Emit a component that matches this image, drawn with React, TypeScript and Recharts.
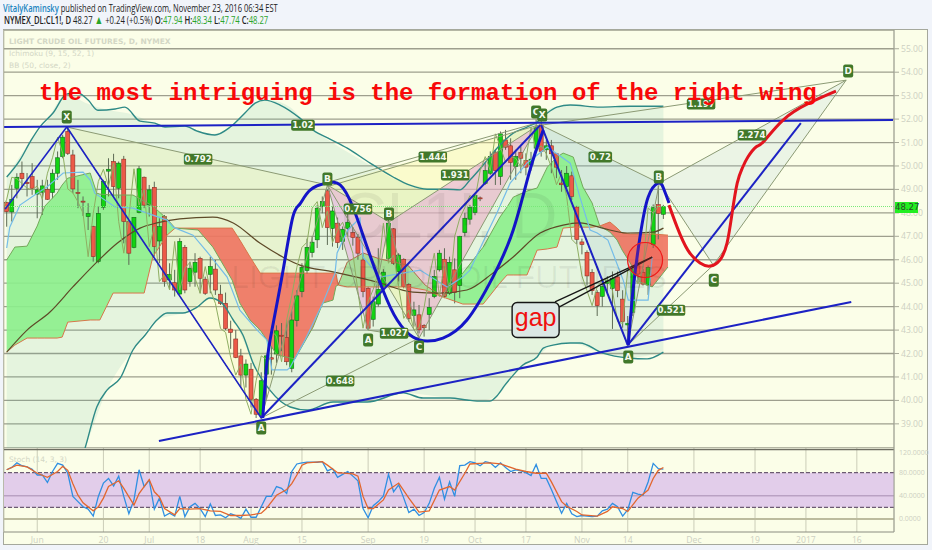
import React from 'react';
import {
  ComposedChart,
  Area,
  Bar,
  Line,
  XAxis,
  YAxis,
  CartesianGrid,
  ReferenceArea,
  ReferenceDot,
  ReferenceLine
} from 'recharts';

type Pt = [number, number];
type Band = [number, number, number];

const opens = [48.44,48.04,49.05,49.69,49.3,49.55,48.8,48.88,49.0,48.87,49.69,50.4,51.47,50.47,48.87,48.5,47.84,47.41,45.92,48.24,49.78,50.19,49.05,50.29,47.63,46.53,48.01,49.52,48.34,49.09,46.8,47.84,45.14,45.02,44.54,46.53,45.07,45.47,46.06,45.17,45.38,45.6,44.53,44.14,43.04,42.62,41.9,41.08,41.33,40.05,39.35,41.12,41.82,41.98,42.78,42.69,41.37,43.41,44.64,45.54,46.31,46.85,48.27,48.94,47.34,47.56,46.77,47.34,47.16,46.96,45.99,44.78,43.46,44.11,44.85,46.06,47.32,45.5,46.02,44.95,43.63,43.65,43.2,43.67,44.43,45.57,46.02,44.57,45.57,44.9,47.16,47.73,48.01,48.64,49.26,49.69,50.57,49.55,51.11,50.86,49.98,50.57,50.23,50.05,50.76,51.75,50.69,50.86,50.52,49.27,49.12,49.58,48.25,46.76,46.31,45.46,44.6,44.44,45.0,44.78,45.27,44.32,43.22,43.76,45.74,45.46,44.92,46.66,48.35,47.94];
const highs = [48.48,49.19,49.69,50.19,49.7,50.12,49.41,49.41,49.41,49.86,50.62,51.33,51.6,50.69,49.41,48.7,48.41,47.45,48.27,49.41,50.33,50.52,50.19,50.43,47.63,47.81,50.0,49.55,49.19,49.33,47.77,47.91,45.85,45.57,46.92,46.63,45.92,46.28,46.13,45.28,46.13,45.99,44.93,44.6,43.4,43.0,42.2,41.75,41.6,40.1,41.2,41.95,42.3,43.2,43.3,43.4,43.8,44.7,45.85,46.9,47.0,48.34,48.7,49.0,48.27,47.8,47.42,48.05,47.4,47.1,46.28,44.85,44.43,46.49,45.6,47.7,47.35,46.28,46.06,45.0,44.21,44.07,43.25,44.36,45.57,46.42,46.49,46.13,46.06,47.02,48.0,48.34,48.85,48.7,50.12,50.62,50.69,51.47,51.54,51.18,50.69,50.83,50.54,50.6,51.98,52.05,51.11,51.11,50.54,49.83,50.0,49.76,48.3,46.9,46.4,45.6,44.7,45.2,45.3,45.5,45.5,44.7,43.6,45.75,46.0,45.6,45.75,48.36,49.15,48.34];
const lows = [47.41,47.63,48.62,49.05,48.7,48.77,47.77,47.91,48.55,48.62,49.41,50.33,50.47,48.84,48.2,47.87,47.27,45.92,45.85,48.13,48.7,48.7,48.62,46.7,45.78,46.49,47.98,48.2,47.84,46.13,45.85,44.85,44.71,44.43,44.5,44.57,44.85,44.85,44.57,44.5,44.57,44.5,44.07,43.0,42.2,41.8,40.55,40.55,39.7,39.25,39.2,40.0,41.1,41.6,42.1,41.5,41.2,43.15,44.4,45.4,46.1,46.5,47.98,46.63,46.56,46.5,46.42,46.99,46.6,46.0,44.4,43.0,43.15,44.0,44.6,45.92,45.78,45.07,44.78,43.36,43.15,42.86,42.72,43.0,44.36,45.5,44.36,44.5,44.14,44.36,47.0,47.5,47.9,48.5,49.19,49.62,49.19,49.19,50.69,49.41,49.41,49.69,49.6,49.8,50.6,50.4,50.26,49.69,49.48,48.9,49.05,48.55,46.66,46.23,44.9,44.5,43.6,44.0,44.6,43.05,44.4,43.1,42.3,43.6,45.0,44.9,44.5,46.5,46.87,47.74];
const closes = [48.05,48.58,49.52,49.46,49.25,49.05,48.98,49.15,48.58,49.69,50.35,51.23,50.54,49.02,48.85,48.47,47.98,46.13,47.98,49.34,49.86,49.12,50.12,47.63,46.28,47.81,49.88,48.33,48.98,46.56,47.41,45.07,45.37,44.71,46.78,44.71,45.64,45.89,45.21,44.57,45.71,44.71,44.14,43.07,42.9,41.83,41.08,41.55,40.05,39.41,40.84,41.9,41.76,42.97,42.74,41.65,43.43,44.46,45.68,46.53,46.75,48.2,48.48,47.37,48.08,46.73,47.3,47.6,46.95,46.28,44.64,43.08,44.21,44.74,45.47,47.56,45.85,46.2,44.85,43.5,43.86,43.01,43.1,43.97,45.28,46.28,44.43,45.89,44.6,46.99,47.77,48.23,48.74,48.6,49.8,50.4,49.8,51.37,50.8,50.15,50.4,50.33,49.95,50.29,51.65,50.62,50.86,50.52,49.95,49.2,49.69,48.7,46.87,46.65,45.31,44.68,44.04,44.86,45.1,45.2,44.68,43.36,43.28,45.6,45.39,44.96,45.67,48.22,47.98,48.27];

const stochK = [85,89,97,92,90,86,76,76,63,82,96,93,79,39,30,21,17,5,39,62,70,57,74,39,9,33,85,56,67,17,36,5,10,5,39,4,21,27,18,4,26,6,7,2,9,6,1,17,3,3,21,39,39,56,53,44,82,95,97,98,98,98,99,83,87,72,77,82,74,66,18,2,23,30,40,77,47,59,36,11,17,6,11,27,53,72,34,64,39,92,93,99,97,92,99,97,89,97,89,82,85,83,80,75,94,70,70,51,30,10,27,9,4,6,5,4,5,14,17,27,21,5,16,46,43,41,64,96,87,86];
const stochD: Pt[] = [[0,85],[2,93],[4,90],[6,79],[8,72],[10,82],[11,91],[12,84],[13,61],[14,41],[15,28],[17,14],[18,21],[19,36],[20,56],[22,66],[23,53],[25,24],[26,44],[28,68],[29,47],[30,38],[31,18],[33,7],[34,18],[36,17],[38,18],[40,14],[42,13],[44,6],[46,6],[48,7],[50,10],[51,18],[53,41],[55,51],[56,61],[57,76],[58,93],[59,97],[62,99],[63,93],[65,80],[68,78],[69,74],[70,39],[71,18],[72,18],[74,33],[75,50],[77,62],[79,36],[81,12],[83,14],[85,50],[87,56],[88,50],[90,79],[91,95],[93,96],[95,97],[97,95],[100,86],[102,82],[104,79],[106,79],[107,64],[109,30],[110,22],[112,13],[113,7],[116,5],[118,13],[119,21],[121,18],[122,13],[124,36],[126,50],[127,70],[128,84],[129,89]];

const bbUpper: Pt[] = [[0,49.53],[2.6,50.25],[4.8,51.1],[6.5,51.66],[9.1,52.26],[11.8,53.07],[14,53.11],[16,52.81],[17.9,52.38],[21.3,52.43],[23.2,52.51],[26.2,51.91],[29.1,51.83],[31.1,51.66],[35,51.7],[37.4,51.49],[40.9,51.32],[43.9,51.66],[46.8,52.26],[48.8,52.68],[50.7,52.81],[53.7,52.6],[57.6,52.04],[60.2,51.53],[63.5,51.15],[66.9,50.76],[71.4,50.12],[75.9,49.53],[79.2,49.18],[82.6,49.01],[86.5,49.01],[89,48.98],[91,49.4],[93.6,50.04],[96.3,50.76],[99.5,51.4],[102.2,51.66],[104.2,51.87],[106.2,52.26],[108.1,52.51],[110.7,52.6],[116.6,52.51],[122.4,52.55],[129,52.55]];
const bbLower: Pt[] = [[0,29.8],[7.5,34.05],[15.4,37.97],[17.7,39.72],[19.7,40.44],[22.3,40.95],[24.8,42.15],[27.2,42.79],[29.5,43.43],[31.5,43.73],[34.6,43.73],[37.4,43.98],[39.9,44.37],[42.3,44.15],[44.5,43.43],[46.4,42.79],[48.4,41.59],[51.7,40.44],[55.7,39.72],[59,39.59],[64.1,39.93],[70.8,39.93],[77.9,40.32],[81.8,40.1],[87.1,40.1],[90.4,40.02],[92.4,39.97],[94.9,39.97],[96.3,40.19],[97.9,40.66],[99.5,41.08],[101.4,41.51],[104.2,41.85],[105.4,42.23],[107.3,42.36],[110.7,42.45],[112.6,42.45],[117.1,42.02],[122.1,41.81],[125.8,41.77],[129,42.06]];
const bbBasis: Pt[] = [[0,42.06],[4,43],[8.5,43.77],[13,44.84],[17.7,45.9],[21.7,46.7],[26.2,47.35],[29.5,47.57],[34,47.74],[40.5,47.82],[44.5,47.57],[49.8,46.7],[54.3,46.11],[57.6,45.77],[64.1,45.48],[72.7,45.05],[79.8,44.62],[85.1,44.58],[90.4,44.71],[95.5,45.43],[99.5,46.12],[104.8,47.14],[109.3,47.48],[112.6,47.57],[117,47.35],[121.9,47.14],[127,47.18],[129,47.35]];

const conversionLine: Pt[] = [[0,46.5],[0.6,47.39],[2.6,48.33],[6,48.84],[7.9,49.1],[11.1,49.7],[15,49.74],[16.4,49.4],[17.3,48.84],[21.3,48.25],[24.8,48.2],[31.5,47.69],[32.7,47.39],[36.6,47.05],[39.4,46.33],[43.3,45.26],[45.8,43.85],[49.2,43],[51.1,42.58],[52.1,41.3],[55.1,41.3],[55.7,41.42],[58.6,42.58],[62.1,44.15],[64.5,45.43],[64.9,46.29],[67,47.27],[69.4,47.78],[70,46.12],[73.3,45.26],[81.2,45.56],[86.5,44.84],[89.6,45.26],[91,45.56],[94.4,47.14],[96.3,47.99],[98.9,49.27],[102.2,50.12],[106.2,50.81],[110.7,50.12],[112.6,48.67],[114.6,47.27],[116,47.14],[118.1,46.84],[121.1,45.13],[122.1,44.28],[126,44.28],[126.8,46.12]];

// cloud rows: bar index, upper edge, lower edge
const cloudGreen1: Band[] = [[0,45.99,42.06],[1.6,46.54,42.36],[4,46.58,42.66],[6,47.44,42.66],[7.5,48.29,42.66],[9.9,48.84,42.66],[10.9,49.19,42.7],[12,49.48,43.34],[16.4,49.7,43.43],[17.7,48.84,43.43],[18.3,48.8,43.43],[20.9,48.76,44.58],[24.8,48.76,44.58],[27,48.5,44.58],[28.7,48.29,46.12],[31.5,47.74,47.05],[33.1,47.35,47.35]];
const cloudRed1: Band[] = [[33.1,47.35,47.35],[37.6,47.35,47.27],[40.5,47.35,46.54],[44.3,47.35,45.13],[45.8,46.84,44.15],[47.8,46.12,43.43],[49.8,45.43,43],[53.1,45.43,41.94],[56.6,45.43,41.77],[60.2,45.43,43.13],[62.1,45.43,44.15],[64.1,45.43,44.28],[64.7,45.39,44.88],[65.1,44.92,44.92]];
const cloudGreen2: Band[] = [[65.1,44.92,44.92],[66.9,45.9,44.84],[70,46.29,44.84],[73.3,46.03,44.84],[78.8,45.77,44.84],[82.2,44.92,44.71],[85.7,44.41,44.41]];
const cloudGreen3: Band[] = [[85.7,44.41,44.41],[89.6,45.43,44.11],[93.6,46.54,44.11],[96.9,47.82,45.01],[98.3,48.25,45.35],[99.5,48.67,45.35],[102.2,48.93,45.35],[104.2,49.06,46.41],[106.2,49.95,46.46],[108.1,50.38,46.54],[109.3,50.55,47.35],[111.3,50.38,47.39],[113.2,49.1,47.39],[115,48.42,47.39],[116.5,47.44,47.44]];
const cloudRed2: Band[] = [[116.5,47.44,47.44],[118.5,47.61,47.18],[119.9,47.35,46.84],[120.9,47.14,46.41],[122.5,47.1,45.86],[124.4,47.1,45.05],[126.8,47.1,44.84],[129.9,47.05,45.69]];

// harmonic pattern fills, same row layout as the clouds
const patternYellow1: Band[] = [[11.8,51.66,51.66],[50,49.82,39.25],[63,49.19,49.19]];
const patternYellow2: Band[] = [[63,49.19,49.19],[81,50.3,42.66],[104.4,51.74,51.74]];
const patternPink1: Band[] = [[63,49.19,49.19],[71,48.15,43],[75.1,47.61,47.61]];
const patternPink2: Band[] = [[75.1,47.61,47.61],[81,48.44,42.66],[104.4,51.74,51.74]];
const patternBlue1: Band[] = [[105,51.74,51.74],[122,49.93,42.36],[128.2,49.27,49.27]];
const patternBlue2: Band[] = [[128.2,49.27,49.27],[138.8,50.54,45.77],[164.9,53.66,53.66]];

// legs of the patterns: from index, from price, to index, to price
const patternLegs: [number, number, number, number][] = [
  [11.8,51.66,50,39.25],[11.8,51.66,63,49.19],[50,39.25,63,49.19],[50,39.25,81,42.66],[63,49.19,81,42.66],[63,49.3,104.4,51.85],[63,49.12,104.4,51.74],[81,42.66,104.4,51.74],
  [63,49.19,71,43],[71,43,75.1,47.61],[63,49.19,75.1,47.61],[71,43,81,42.66],[75.1,47.61,81,42.66],[75.1,47.61,104.4,51.74],
  [105,51.74,122,42.36],[105,51.74,128.2,49.27],[122,42.36,128.2,49.27],[122,42.36,138.8,45.77],[128.2,49.27,138.8,45.77],[128.2,49.27,164.9,53.66],[105,51.74,164.9,53.66],[138.8,45.77,164.9,53.66]
];
const blueLines: [number, number, number, number, number][] = [
  [-0.5,51.66,174.1,51.96,2],[29.9,38.27,165.9,44.2,2],[-0.3,48.16,11.8,51.66,1.6],[11.8,51.66,50,39.25,1.6],[50,39.25,104.8,51.74,2],[105,51.74,122,42.36,2],[122,42.36,156,51.83,2]
];
const gapLines: [number, number, number, number][] = [[107.7,44.2,126.8,46.11],[108.5,43.98,126.8,46.11]];

const blueCurve1: Pt[] = [[50.3,39.25],[51.1,41.59],[52.1,43],[54.3,45.56],[56.2,47.82],[57.6,48.38],[59.6,48.97],[62.9,49.27],[65.5,49.19],[68,48.25],[70.8,46.54],[73.9,44.71],[76.7,43.43],[79.8,42.7],[82.6,42.53],[85.7,42.66],[90.4,43.43],[95.5,45.26],[99.5,47.27],[102.8,49.83],[105.4,51.53]];
const blueCurve2: Pt[] = [[122.1,42.36],[123.1,44.84],[124.4,46.97],[126,48.67],[128,49.27],[129,49.06],[130.1,48.42]];
const redCurve: Pt[] = [[130.1,48.33],[131.7,47.39],[133.8,46.41],[136.2,45.86],[138.2,45.73],[140.1,45.99],[141.5,46.71],[142.5,47.99],[143.5,49.27],[144.5,49.91],[145.6,50.38],[147.2,50.81],[148.6,51.02],[152.5,51.96],[157.6,52.68],[162.9,53.19]];

const tagTexts = ['X','0.792','1.02','B','0.756','A','0.648','A','B','1.027','C','1.444','1.931','C','X','0.72','1.197','2.274','B','0.521','C','A','D'];
const tagIndex = [11.8,37.6,58.2,63,69,50,65.5,71,75.1,76.1,81,83.7,88.1,104,105.2,116.6,136.4,146.4,128.1,130.5,138.9,122.1,165.3];
const tagPrice = [52.09,50.29,51.74,49.44,48.16,38.82,40.83,42.58,47.95,42.87,42.28,50.38,49.61,52.3,52.17,50.38,52.64,51.32,49.53,43.85,45.13,41.85,54.05];

const timeTicks = [6,19,28,38,48,58,71,82,92,102,113,122,135,147,157,167];
const timeLabels = ['Jun','20','Jul','18','Aug','15','Sep','19','Oct','17','Nov','14','Dec','19','2017','16'];
const priceTicks = [39,40,41,42,43,44,45,46,47,48,49,50,51,52,53,54,55];
const stochTicks = [0,40,80,120];
const lastPrice = 48.27;

const candleRows = closes.map((c, i) => ({
  i,
  open: opens[i],
  high: highs[i],
  low: lows[i],
  close: c,
  range: [lows[i], highs[i]]
}));
const laggedRows = closes.map((c, i) => ({ i: i - 1, p: c }));
const stochRows = stochK.map((k, i) => ({ i, k }));

const ptRows = (pts: Pt[]) => pts.map(([i, p]) => ({ i, p }));
const bandRows = (rows: Band[]) => rows.map(([i, top, bottom]) => ({ i, top, bottom, range: [bottom, top] }));

// BB fill needs both edges at one x, so it has its own rows read at shared bars
const bbBandIdx = [0,4.8,7.5,11.8,15.4,19.7,24.8,29.5,35,40,44.5,48.6,51.7,55.7,59,64.1,70.8,77.9,87.1,92.4,96.3,99.5,104.2,107.3,110.7,117,122.1,129];
const bbBandTop = [49.53,51.1,51.8,53.07,52.7,52.4,52.2,51.8,51.7,51.36,51.75,52.66,52.8,52.5,51.75,50.98,50.11,49.3,49.0,49.85,50.76,51.4,51.87,52.5,52.6,52.51,52.55,52.55];
const bbBandBottom = [29.8,32.7,34.05,36.2,37.97,40.44,42.15,43.43,43.75,44.3,43.43,41.55,40.44,39.72,39.59,39.93,39.93,40.32,40.1,39.97,40.19,41.08,41.85,42.36,42.45,42.02,41.81,42.06];
const bbBandRows = bbBandIdx.map((i, n) => ({ i, range: [bbBandBottom[n], bbBandTop[n]] }));

const Candle = (props: any) => {
  const { x, y, width, height, payload } = props;
  const k = height / (payload.high - payload.low || 1);
  const up = payload.close >= payload.open;
  const top = y + (payload.high - Math.max(payload.open, payload.close)) * k;
  const h = Math.max(Math.abs(payload.open - payload.close) * k, 1);
  const cx = x + width / 2;
  return (
    <g>
      <line x1={cx} x2={cx} y1={y} y2={y + height} stroke="#5d6a55" strokeWidth={1} />
      <rect
        x={cx - 2}
        y={top}
        width={4}
        height={h}
        fill={up ? '#12d412' : '#ec5a48'}
        stroke={up ? '#11691a' : '#8e2f25'}
        strokeWidth={0.6}
      />
    </g>
  );
};

const Tag = (props: any) => {
  const { cx, cy, text } = props;
  const w = text.length > 1 ? text.length * 4.9 + 4 : 10;
  const h = text.length > 1 ? 11 : 13;
  return (
    <g>
      <rect x={cx - w / 2} y={cy - h / 2} width={w} height={h} rx={2} fill="#41782a" />
      <text x={cx} y={cy + 3.3} textAnchor="middle" fontFamily="'DejaVu Sans'" fontWeight="bold" fontSize={text.length > 1 ? 8.6 : 9} fill="#f4f8ee">
        {text}
      </text>
    </g>
  );
};

const GapBox = (props: any) => (
  <g>
    <rect x={props.cx - 23.5} y={props.cy - 17.5} width={47} height={35} rx={5} fill="#dbe7e4" stroke="#151515" strokeWidth={1.4} />
    <text x={props.cx} y={props.cy + 6} textAnchor="middle" fontFamily="'Liberation Sans'" fontSize={25} fill="#f01010">gap</text>
  </g>
);

const Watermark = (props: any) => (
  <g fill="#000" fillOpacity={0.06} fontFamily="'Liberation Sans'" textAnchor="middle">
    <text x={props.cx} y={props.cy} fontSize={64}>CL1!, D</text>
    <text x={props.cx} y={props.cy + 50} fontSize={32}>LIGHT CRUDE OIL FUTURES</text>
  </g>
);

const cloud = (name: string, rows: Band[], fill: string, topColor: string, bottomColor: string) => {
  const data = bandRows(rows);
  return [
    <Area key={name} data={data} dataKey="range" type="linear" stroke="none" fill={fill} fillOpacity={0.9} dot={false} activeDot={false} isAnimationActive={false} />,
    <Line key={name + 't'} data={data} dataKey="top" type="linear" stroke={topColor} strokeWidth={1} dot={false} activeDot={false} isAnimationActive={false} />,
    <Line key={name + 'b'} data={data} dataKey="bottom" type="linear" stroke={bottomColor} strokeWidth={1} dot={false} activeDot={false} isAnimationActive={false} />
  ];
};

const tint = (name: string, rows: Band[], fill: string, opacity: number) => (
  <Area key={name} data={bandRows(rows)} dataKey="range" type="linear" stroke="none" fill={fill} fillOpacity={opacity} dot={false} activeDot={false} isAnimationActive={false} />
);

const curve = (name: string, pts: Pt[], color: string, width: number, type: any = 'monotone') => (
  <Line key={name} data={ptRows(pts)} dataKey="p" type={type} stroke={color} strokeWidth={width} dot={false} activeDot={false} isAnimationActive={false} />
);

const TICK_COLOR = '#cdd0c2';
const axisTick = { fill: TICK_COLOR, fontSize: 8.6, fontFamily: "'Open Sans'" };
const BG = '#fbfee8';
const headerFont: React.CSSProperties = {
  position: 'absolute',
  fontFamily: "'Open Sans'",
  fontSize: 10.5,
  lineHeight: '12px',
  color: '#222',
  whiteSpace: 'nowrap',
  transformOrigin: 'left center'
};

export default function App() {
  return (
    <div style={{ position: 'fixed', left: 0, top: 0, width: 932, height: 550, background: '#f1f4fa', overflow: 'hidden' }}>
      <style>{`.recharts-cartesian-axis-tick-value { fill: ${TICK_COLOR}; }`}</style>
      <div style={{ ...headerFont, left: 3, top: 2, transform: 'scaleX(0.72)' }}>
        <b style={{ color: '#1b84c0', fontWeight: 600 }}>VitalyKaminsky</b> published on TradingView.com, November 23, 2016 06:34 EST
      </div>
      <div style={{ ...headerFont, left: 4, top: 14, transform: 'scaleX(0.73)' }}>
        <b style={{ fontWeight: 600 }}>NYMEX_DL:CL1!, D</b> 48.27 <span style={{ color: '#2aa52a', fontSize: 12 }}>▲</span> +0.24 (+0.5%) <b style={{ fontWeight: 600 }}>O:</b><span style={{ color: '#2aa52a' }}>47.94</span> <b style={{ fontWeight: 600 }}>H:</b><span style={{ color: '#2aa52a' }}>48.34</span> <b style={{ fontWeight: 600 }}>L:</b><span style={{ color: '#2aa52a' }}>47.74</span> <b style={{ fontWeight: 600 }}>C:</b><span style={{ color: '#2aa52a' }}>48.27</span>
      </div>

      <div style={{ position: 'absolute', left: 3, top: 29, width: 925, height: 516, background: BG, border: '1px solid #a5a89c', boxSizing: 'border-box' }} />

      <div style={{ position: 'absolute', left: 0, top: 30 }}>
        <ComposedChart width={932} height={418} data={candleRows} margin={{ top: 0, right: 4, bottom: 0, left: 4 }} barSize={4}>
          <CartesianGrid horizontal={false} stroke="#cbcdb8" strokeWidth={1} />
          <XAxis dataKey="i" type="number" domain={[-0.53, 174.3]} ticks={timeTicks} height={0} tick={false} axisLine={false} tickLine={false} allowDataOverflow />
          <YAxis
            orientation="right"
            width={34}
            domain={[37.97, 55.8]}
            ticks={priceTicks}
            tick={axisTick}
            stroke={TICK_COLOR}
            tickFormatter={(v: number) => v.toFixed(2)}
            tickSize={5}
            tickLine={{ stroke: '#a9aa9a' }}
            axisLine={{ stroke: '#9a9c90' }}
            allowDataOverflow
          />

          <Area data={bbBandRows} dataKey="range" type="monotone" stroke="none" fill="#55b59a" fillOpacity={0.13} dot={false} activeDot={false} isAnimationActive={false} />
          {tint('y1', patternYellow1, '#f6f47a', 0.14)}
          {tint('y2', patternYellow2, '#f6f47a', 0.26)}
          {tint('p1', patternPink1, '#e8a0dc', 0.5)}
          {tint('p2', patternPink2, '#e8a0dc', 0.5)}
          {tint('b1', patternBlue1, '#8fb9d8', 0.17)}
          {tint('b2', patternBlue2, '#8fb9d8', 0.14)}

          <CartesianGrid vertical={false} stroke="#9e9f8e" strokeWidth={1.3} />

          {cloud('g1', cloudGreen1, '#8cf08c', '#74a85a', '#d8764a')}
          {cloud('r1', cloudRed1, '#f0735f', '#d8764a', '#74a85a')}
          {cloud('g2', cloudGreen2, '#a2dd92', '#b06a4a', '#d8764a')}
          {cloud('g3', cloudGreen3, '#8cf08c', '#74a85a', '#d8764a')}
          {cloud('r2', cloudRed2, '#f0735f', '#d8764a', '#74a85a')}

          {curve('upper', bbUpper, '#2e8a86', 1.4)}
          {curve('lower', bbLower, '#2e8a86', 1.4)}
          {curve('basis', bbBasis, '#5e4a28', 1.2)}
          {curve('conversion', conversionLine, '#74bce8', 1.2, 'linear')}
          <Line data={laggedRows} dataKey="p" type="linear" stroke="#8fae62" strokeWidth={1} dot={false} activeDot={false} isAnimationActive={false} />

          <ReferenceLine y={lastPrice} stroke="#79e879" strokeDasharray="1 1" strokeWidth={1} />

          <Bar dataKey="range" shape={<Candle />} isAnimationActive={false} />

          {patternLegs.map((s, n) =>
            curve('leg' + n, [[s[0], s[1]], [s[2], s[3]]], '#8b9a74', 1, 'linear')
          )}
          {blueLines.map((s, n) =>
            curve('blue' + n, [[s[0], s[1]], [s[2], s[3]]], '#1c22c4', s[4], 'linear')
          )}
          {gapLines.map((s, n) =>
            curve('gap' + n, [[s[0], s[1]], [s[2], s[3]]], '#161616', 1.3, 'linear')
          )}
          {curve('c1', blueCurve1, '#1414c8', 3, 'natural')}
          {curve('c2', blueCurve2, '#1414c8', 3, 'natural')}
          {curve('c3', redCurve, '#e2141e', 3, 'natural')}

          <ReferenceDot x={125.4} y={45.99} r={17.5} fill="#f04040" fillOpacity={0.24} stroke="#f01818" strokeWidth={1.2} />
          <ReferenceDot x={86.9} y={46.93} shape={<Watermark />} />
          {tagTexts.map((t, n) => (
            <ReferenceDot key={'tag' + n} x={tagIndex[n]} y={tagPrice[n]} shape={<Tag text={t} />} />
          ))}
          <ReferenceDot x={103.9} y={43.43} shape={<GapBox />} />
        </ComposedChart>
      </div>

      <div style={{ position: 'absolute', left: 0, top: 448 }}>
        <ComposedChart width={932} height={102} data={stochRows} margin={{ top: 0, right: 4, bottom: 5, left: 4 }}>
          <ReferenceArea y1={20} y2={80} fill="#e2cdea" fillOpacity={1} stroke="none" />
          <CartesianGrid horizontal={false} stroke="#cbcdb8" strokeWidth={1} />
          <XAxis
            dataKey="i"
            type="number"
            domain={[-0.53, 174.3]}
            ticks={timeTicks}
            height={13}
            tick={{ ...axisTick, dy: -3 }}
            stroke={TICK_COLOR}
            tickFormatter={(v: number) => timeLabels[timeTicks.indexOf(v)]}
            tickLine={false}
            axisLine={{ stroke: '#8a8c80' }}
            allowDataOverflow
          />
          <YAxis
            orientation="right"
            width={34}
            domain={[-22.5, 122.6]}
            ticks={stochTicks}
            tick={{ ...axisTick, fontSize: 7 }}
            stroke={TICK_COLOR}
            tickFormatter={(v: number) => v.toFixed(4)}
            tickSize={3}
            tickLine={false}
            axisLine={{ stroke: '#9a9c90' }}
            allowDataOverflow
          />
          <ReferenceLine y={120} stroke="#6e6e62" strokeWidth={1.3} />
          <ReferenceLine y={0} stroke="#bcbc9e" strokeWidth={2} />
          <ReferenceLine y={40} stroke="#a68eb0" strokeWidth={1} />
          <ReferenceLine y={80} stroke="#6c5b72" strokeWidth={1.2} strokeDasharray="4 2" />
          <ReferenceLine y={20} stroke="#6c5b72" strokeWidth={1.2} strokeDasharray="4 2" />
          <Line dataKey="k" type="linear" stroke="#2f8fe2" strokeWidth={1.3} dot={false} activeDot={false} isAnimationActive={false} />
          {curve('d', stochD, '#e2672f', 1.3, 'linear')}
        </ComposedChart>
      </div>

      <div style={{ position: 'absolute', left: 9, top: 36, fontFamily: "'DejaVu Sans'", fontSize: 7.5, color: '#d3d7c5', lineHeight: '12px', whiteSpace: 'nowrap' }}>
        <div style={{ fontWeight: 700 }}>LIGHT CRUDE OIL FUTURES, D, NYMEX</div>
        <div>Ichimoku (9, 15, 52, 1)</div>
        <div>BB (50, close, 2)</div>
      </div>
      <div style={{ position: 'absolute', left: 9, top: 455, fontFamily: "'DejaVu Sans'", fontSize: 7.5, color: '#d3d7c5', whiteSpace: 'nowrap' }}>Stoch (14, 3, 3)</div>

      <div style={{ position: 'absolute', left: 39, top: 80, fontFamily: "'Liberation Mono'", fontWeight: 700, fontSize: 24, lineHeight: '28px', color: '#f80808', whiteSpace: 'pre' }}>
        the most intriguing is the formation of the right wing
      </div>

      <div style={{ position: 'absolute', left: 895, top: 202, width: 23, height: 11, background: '#22ee22', fontFamily: "'DejaVu Sans'", fontSize: 8.5, lineHeight: '11px', color: '#2a4a2a', textAlign: 'center' }}>48.27</div>
    </div>
  );
}
